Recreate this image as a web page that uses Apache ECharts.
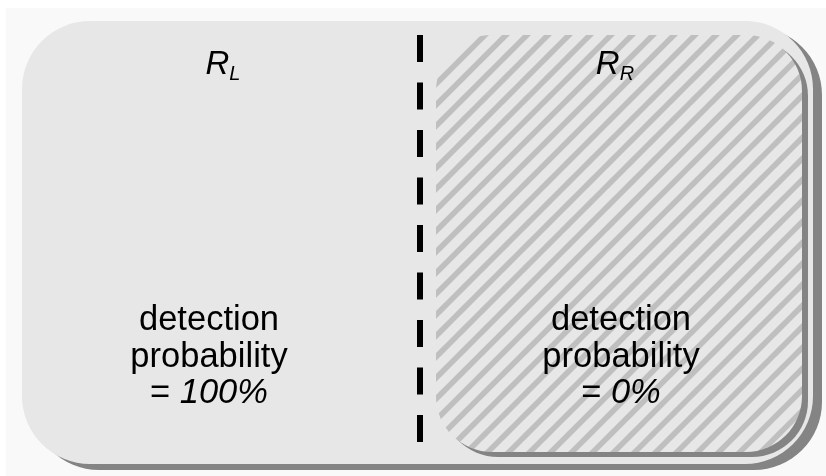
<!DOCTYPE html>
<html><head><meta charset="utf-8">
<script src="https://cdn.jsdelivr.net/npm/echarts@6/dist/echarts.min.js"></script>
<style>html,body{margin:0;padding:0;background:#ffffff}#c{width:826px;height:476px}</style>
</head><body><div id="c"></div>
<script>
// Diagram content
const regionNames = ['L', 'R'];
const descriptionLines = ['detection', 'probability'];
const probabilities = ['100%', '0%'];

// hatch pattern tile
const P = 21;
const tile = document.createElement('canvas');
tile.width = P; tile.height = P;
const tctx = tile.getContext('2d');
tctx.fillStyle = '#e7e7e7';
tctx.fillRect(0, 0, P, P);
tctx.strokeStyle = '#bfbfbf';
tctx.lineWidth = 5.5;
[-5, 16, 37, 58].forEach(function (c) {
  tctx.beginPath();
  tctx.moveTo(c + 10, -10);
  tctx.lineTo(c - 40, 40);
  tctx.stroke();
});

const chart = echarts.init(document.getElementById('c'));
const font = '"Liberation Sans", Arial, sans-serif';

const outer = { x: 22, y: 21, w: 791, h: 443, r: 68, sx: 9, sy: 6 };
const inner = { x: 436, y: 35, w: 366, h: 417, r: 56, sx: 6, sy: 5 };
const centersX = [209, 621];
const titleCentersX = [223, 615];

const elements = [];
let z = 1;
elements.push({ type: 'rect', z: z++, shape: { x: 6, y: 8, width: 820, height: 468 }, style: { fill: '#f9f9f9' } });
// outer shadow + fill
elements.push({ type: 'rect', z: z++, shape: { x: outer.x + outer.sx, y: outer.y + outer.sy, width: outer.w, height: outer.h, r: outer.r }, style: { fill: '#848484' } });
elements.push({ type: 'rect', z: z++, shape: { x: outer.x, y: outer.y, width: outer.w, height: outer.h, r: outer.r }, style: { fill: '#e7e7e7' } });
// inner shadow + hatched fill
elements.push({ type: 'rect', z: z++, shape: { x: inner.x + inner.sx, y: inner.y + inner.sy, width: inner.w, height: inner.h, r: inner.r }, style: { fill: '#848484' } });
elements.push({ type: 'rect', z: z++, shape: { x: inner.x, y: inner.y, width: inner.w, height: inner.h, r: inner.r }, style: { fill: { image: tile, repeat: 'repeat' } } });
// dashed divider
elements.push({ type: 'line', z: z++, shape: { x1: 420, y1: 35, x2: 420, y2: 442 }, style: { stroke: '#000', lineWidth: 6, lineDash: [27, 20.5] } });

regionNames.forEach(function (n, i) {
  elements.push({
    type: 'text', z: z++, x: titleCentersX[i], y: 64.6,
    style: {
      text: '{r|R}{s|' + n + '}', align: 'center', verticalAlign: 'middle',
      rich: {
        r: { fontSize: 33, fontStyle: 'italic', fontFamily: font, lineHeight: 40, fill: '#000' },
        s: { fontSize: 20, fontStyle: 'italic', fontFamily: font, lineHeight: 28, verticalAlign: 'bottom', fill: '#000' }
      }
    }
  });
  const txt = descriptionLines.map(function (l) { return '{a|' + l + '}'; }).join('\n') + '\n{a|= }{b|' + probabilities[i] + '}';
  elements.push({
    type: 'text', z: z++, x: centersX[i], y: 357,
    style: {
      text: txt, align: 'center', verticalAlign: 'middle',
      rich: {
        a: { fontSize: 34.5, fontFamily: font, lineHeight: 36.5, fill: '#000' },
        b: { fontSize: 34.5, fontStyle: 'italic', fontFamily: font, lineHeight: 36.5, fill: '#000' }
      }
    }
  });
});

chart.setOption({ animation: false, graphic: { elements: elements } });
</script>
</body></html>
